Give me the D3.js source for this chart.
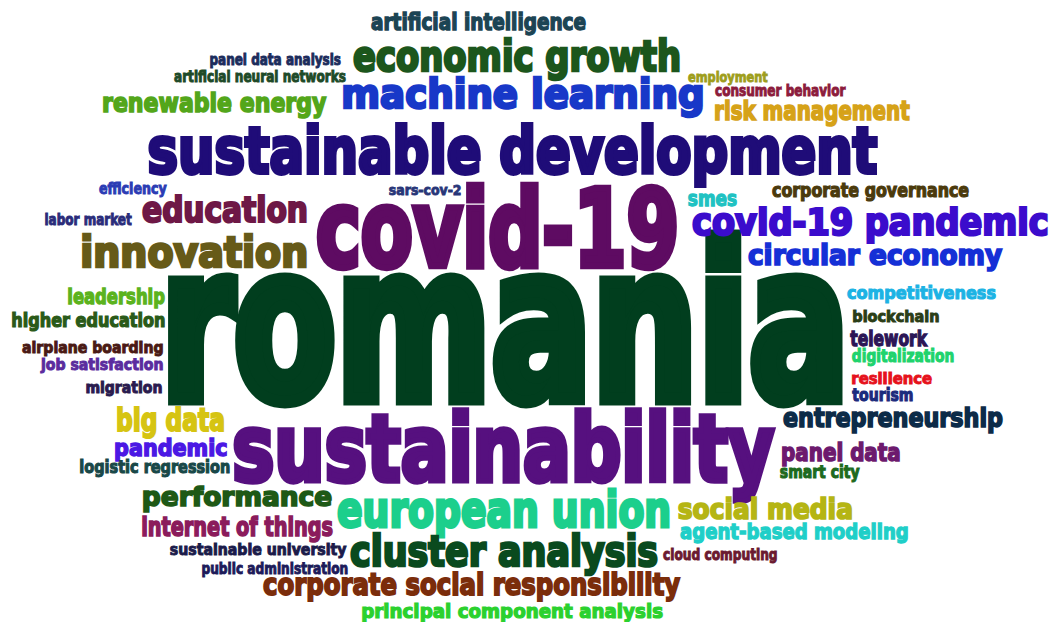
<!DOCTYPE html>
<html>
<head>
<meta charset="utf-8">
<script src="https://cdn.jsdelivr.net/npm/d3@7"></script>
<style>
  html, body { margin: 0; padding: 0; background: #ffffff; }
  svg { display: block; }
</style>
</head>
<body>
<div id="chart"></div>
<script>
// ---- data ----
const words = [
  "romania", "sustainable development", "covid-19", "sustainability",
  "machine learning", "economic growth", "covid-19 pandemic", "circular economy",
  "innovation", "education", "european union", "cluster analysis",
  "corporate social responsibility", "principal component analysis", "social media",
  "agent-based modeling", "cloud computing", "panel data", "smart city",
  "entrepreneurship", "competitiveness", "blockchain", "telework", "digitalization",
  "resilience", "tourism", "big data", "pandemic", "logistic regression",
  "performance", "internet of things", "sustainable university", "public administration",
  "leadership", "higher education", "airplane boarding", "job satisfaction", "migration",
  "labor market", "efficiency", "renewable energy", "artificial neural networks",
  "panel data analysis", "artificial intelligence", "employment", "consumer behavior",
  "risk management", "corporate governance", "smes", "sars-cov-2"
];
// relative frequency weight (word height in the cloud)
const weights = [
  171, 52, 86, 75,
  33, 34, 30, 23,
  34, 28, 40, 34,
  24, 16, 23,
  17, 13, 20, 14,
  21, 14, 12, 17, 14,
  12, 14, 25, 19, 14,
  22, 22, 13, 12,
  17, 16, 13, 13, 13,
  13, 12, 21, 13,
  13, 18, 12, 13,
  22, 15, 17, 11
];
const colors = [
  "#013e1e", "#1f0c78", "#5e0b62", "#56107f",
  "#1838c8", "#1c561c", "#3b0ccc", "#1530d6",
  "#665a18", "#6e1846", "#1ccf8c", "#0a4a1e",
  "#7b2d0b", "#2bd12e", "#b5b514",
  "#1fcfc8", "#6b1a30", "#6d1a6e", "#1e6a1e",
  "#0c2b48", "#1cb3e4", "#2b3d16", "#2c1656", "#20d36c",
  "#e6121c", "#1b2b7d", "#d6c412", "#4b18e4", "#184848",
  "#1e5916", "#8b1b5c", "#1b1b4a", "#1d1b5a",
  "#5bb31d", "#2a5a18", "#4a1a14", "#5b2c9e", "#2a1b4e",
  "#2a2c7a", "#2b3cb4", "#53a61a", "#1d4a28",
  "#1c2c5c", "#1c4454", "#9e9e1c", "#8c1c3c",
  "#d6a218", "#4b3a0c", "#20c2c2", "#283678"
];
// ---- cloud layout (left edge, right edge, baseline in layout units) ----
const layoutLeft = [
  167, 148, 316, 233,
  343, 353, 692, 748,
  82, 142, 337, 350,
  263, 362, 678,
  680, 663, 782, 780,
  783, 847, 853, 850, 852,
  852, 852, 117, 115, 80,
  143, 142, 170, 202,
  68, 12, 22, 40, 86,
  45, 99, 103, 174,
  210, 371, 688, 715,
  715, 772, 688, 389
];
const layoutRight = [
  843, 878, 677, 776,
  703, 680, 1048, 1003,
  307, 307, 670, 658,
  681, 663, 852,
  908, 777, 900, 860,
  1003, 996, 939, 928, 954,
  932, 913, 224, 227, 230,
  332, 333, 347, 348,
  165, 165, 163, 163, 162,
  132, 167, 327, 346,
  341, 586, 768, 846,
  910, 969, 737, 461
];
const layoutBase = [
  405, 175, 269, 484,
  109, 72, 236, 266,
  268, 223, 528, 567,
  596, 619, 520,
  540, 560, 462, 479,
  428, 300, 322, 347, 363,
  384, 402, 432, 457, 474,
  507, 537, 555, 574,
  305, 328, 353, 370, 393,
  225, 194, 113, 82,
  65, 31, 82, 96,
  121, 198, 207, 195
];

const W = 1053, H = 622;
const x = d3.scaleLinear().domain([0, 1053]).range([0, W]);
const y = d3.scaleLinear().domain([0, 622]).range([0, H]);
const sizeScale = d3.scaleLinear().domain([0, d3.max(weights)]).range([0, d3.max(weights)]);

const FONT_FAMILY = "'Liberation Sans Narrow', 'DejaVu Sans Condensed', 'DejaVu Sans', sans-serif";
const BASE = 100;   // font size before fitting
const S = 6;        // extra stroke (in base font units) to mimic the heavy display face
const canvas = document.createElement("canvas");
const ctx = canvas.getContext("2d");
ctx.font = `bold ${BASE}px ${FONT_FAMILY}`;
const lAsc = ctx.measureText("l").actualBoundingBoxAscent;
const xAsc = ctx.measureText("x").actualBoundingBoxAscent;

const data = words.map((w, i) => ({
  word: w, weight: weights[i], color: colors[i],
  left: layoutLeft[i], right: layoutRight[i], base: layoutBase[i]
}));

const svg = d3.select("#chart").append("svg")
  .attr("width", W).attr("height", H)
  .attr("viewBox", `0 0 ${W} ${H}`);

svg.append("rect").attr("width", W).attr("height", H).attr("fill", "#ffffff");

svg.append("g").selectAll("text")
  .data(data)
  .join("text")
  .text(d => d.word)
  .attr("font-family", FONT_FAMILY)
  .attr("font-weight", "bold")
  .attr("font-size", BASE)
  .attr("fill", d => d.color)
  .attr("stroke", d => d.color)
  .attr("stroke-width", S)
  .attr("stroke-linejoin", "miter")
  .attr("transform", d => {
    const m = ctx.measureText(d.word);
    const inkW = m.actualBoundingBoxLeft + m.actualBoundingBoxRight + S;
    const asc = sizeScale(d.weight);
    const tL = asc, tX = 0.77 * asc;
    const hL = lAsc + S, hX = xAsc + S;
    const sy = (0.3 * tL + 0.7 * tX) / (0.3 * hL + 0.7 * hX);
    const sx = (x(d.right) - x(d.left)) / inkW;
    const tx = x(d.left) + (m.actualBoundingBoxLeft + S / 2) * sx;
    const ty = y(d.base) - (S / 2) * sy;
    return `translate(${tx},${ty}) scale(${sx},${sy})`;
  });
</script>
</body>
</html>
